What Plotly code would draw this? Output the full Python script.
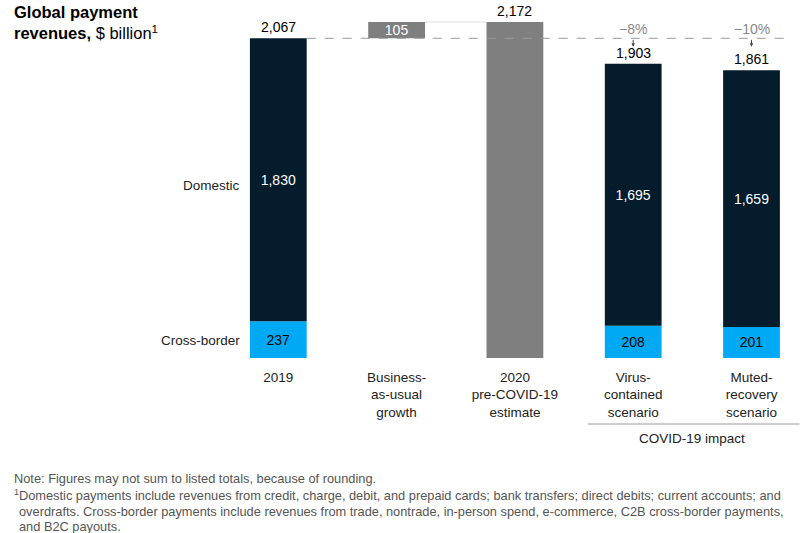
import plotly.graph_objects as go

# ---- data ----
categories = ["2019", "Business-<br>as-usual<br>growth", "2020<br>pre-COVID-19<br>estimate",
              "Virus-<br>contained<br>scenario", "Muted-<br>recovery<br>scenario"]
stack_x = [0, 3, 4]
cross_border = [237, 208, 201]
domestic = [1830, 1695, 1659]
totals = [2067, 1903, 1861]
bau_base = 2067
bau_growth = 105
pre_covid_2020 = 2172
impact_labels = ["\u22128%", "\u221210%"]
impact_x = [3, 4]

NAVY = "#051C2C"
BLUE = "#00A9F4"
GRAY = "#7F7F7F"
FONT = "Liberation Sans"

W, H = 800, 533
PLOT_L, PLOT_R, PLOT_T, PLOT_B = 160, 787.5, 10, 358  # page pixels
L = PLOT_L
R = W - PLOT_R
T = PLOT_T
B = H - PLOT_B
X_RANGE = [-1, 4.3]
Y_RANGE = [0, 2250]
BW = 0.48


def px_x(p):
    return (p - PLOT_L) / (PLOT_R - PLOT_L)


def px_y(p):
    return (PLOT_B - p) / (PLOT_B - PLOT_T)


fig = go.Figure()

fig.add_trace(go.Bar(x=stack_x, y=cross_border, base=[0] * len(stack_x), width=BW,
                     marker=dict(color=BLUE, line=dict(width=0)),
                     text=[f"{v:,}" for v in cross_border], textposition="inside",
                     insidetextanchor="middle",
                     textfont=dict(color="black", size=14, family=FONT), name="Cross-border"))
fig.add_trace(go.Bar(x=stack_x, y=domestic, base=cross_border, width=BW,
                     marker=dict(color=NAVY, line=dict(width=0)),
                     text=[f"{v:,}" for v in domestic], textposition="inside",
                     insidetextanchor="middle",
                     textfont=dict(color="white", size=14, family=FONT), name="Domestic"))
fig.add_trace(go.Bar(x=[1], y=[bau_growth], base=[bau_base], width=BW,
                     marker=dict(color=GRAY, line=dict(width=0)),
                     text=[f"{bau_growth:,}"], textposition="inside", insidetextanchor="middle",
                     textfont=dict(color="white", size=14, family=FONT), name="BAU"))
fig.add_trace(go.Bar(x=[2], y=[pre_covid_2020], base=[0], width=BW,
                     marker=dict(color=GRAY, line=dict(width=0)), name="2020"))

ann = []
# totals
for xv, tv in zip([0, 2, 3, 4], [totals[0], pre_covid_2020, totals[1], totals[2]]):
    ann.append(dict(x=xv, y=tv, text=f"{tv:,}", showarrow=False, yanchor="bottom", yshift=1,
                    font=dict(size=14, color="black", family=FONT)))
# impact labels with arrows
for xv, lab in zip(impact_x, impact_labels):
    ann.append(dict(x=xv, y=bau_base, text=lab, showarrow=False, yanchor="bottom", yshift=-1,
                    font=dict(size=14, color="#8a8a8a", family=FONT)))
    ann.append(dict(x=xv, y=bau_base - 55, ax=xv, ay=bau_base, axref="x", ayref="y",
                    text="", showarrow=True, arrowhead=2, arrowsize=0.7, arrowwidth=1,
                    arrowcolor="#444"))
# side labels
ann.append(dict(x=-0.31, y=cross_border[0] + domestic[0] / 2, yshift=-6, text="Domestic",
                showarrow=False, xanchor="right", yanchor="middle",
                font=dict(size=13.5, color="#222", family=FONT)))
ann.append(dict(x=-0.31, y=cross_border[0] / 2, yshift=-1, text="Cross-border", showarrow=False,
                xanchor="right", yanchor="middle", font=dict(size=13.5, color="#222", family=FONT)))
# COVID-19 impact
ann.append(dict(x=3.5, xref="x", y=px_y(438), yref="paper", yanchor="middle",
                text="COVID-19 impact",
                showarrow=False, font=dict(size=13.5, color="#222", family=FONT)))
# title
ann.append(dict(x=px_x(12), xref="paper", y=px_y(1), yref="paper", xanchor="left", yanchor="top",
                align="left", showarrow=False,
                text="<b>Global payment</b><br><b>revenues,</b> $ billion<sup>1</sup>",
                font=dict(size=16.5, color="black", family=FONT)))
# notes
notes = [
    "Note: Figures may not sum to listed totals, because of rounding.",
    "<sup>1</sup>Domestic payments include revenues from credit, charge, debit, and prepaid cards; bank transfers; direct debits; current accounts; and",
    "overdrafts. Cross-border payments include revenues from trade, nontrade, in-person spend, e-commerce, C2B cross-border payments,",
    "and B2C payouts.",
]
note_y = [478, 495, 511, 526]
note_xpx = [12, 12, 17, 17]
for t, yy, xx in zip(notes, note_y, note_xpx):
    ann.append(dict(x=px_x(xx), xref="paper", y=px_y(yy), yref="paper", xanchor="left",
                    yanchor="middle", showarrow=False, text=t,
                    font=dict(size=12.8, color="#555", family=FONT)))

shapes = [
    dict(type="line", xref="x", yref="y", x0=BW / 2, x1=4.28, y0=bau_base, y1=bau_base,
         line=dict(color="#9a9a9a", width=1, dash="dash")),
    dict(type="line", xref="x", yref="y", x0=1 + BW / 2, x1=2 - BW / 2,
         y0=pre_covid_2020, y1=pre_covid_2020, line=dict(color="#dddddd", width=1)),
    dict(type="line", xref="paper", yref="paper", x0=px_x(588), x1=px_x(800),
         y0=px_y(424), y1=px_y(424), line=dict(color="#9a9a9a", width=1)),
]

fig.update_layout(
    width=W, height=H, margin=dict(l=L, r=R, t=T, b=B, pad=0),
    plot_bgcolor="white", paper_bgcolor="white", barmode="overlay", showlegend=False,
    annotations=ann, shapes=shapes,
    uniformtext=dict(minsize=14, mode="show"),
    font=dict(family=FONT, color="#222"),
    xaxis=dict(range=X_RANGE, tickvals=list(range(len(categories))), ticktext=categories,
               showgrid=False, zeroline=False, showline=False, ticks="",
               ticklabelstandoff=9,
               tickfont=dict(size=13.5, color="#222", family=FONT), fixedrange=True),
    yaxis=dict(range=Y_RANGE, visible=False, fixedrange=True),
)

fig.write_html("out.html", config={"displayModeBar": False, "staticPlot": True},
               post_script="document.body.style.margin='0';document.body.style.overflow='hidden';")
